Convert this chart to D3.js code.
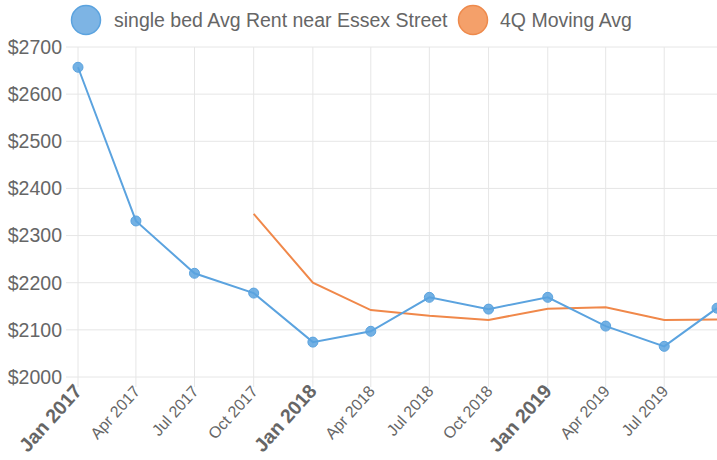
<!DOCTYPE html>
<html><head><meta charset="utf-8">
<script src="https://cdn.jsdelivr.net/npm/d3@7"></script>
<style>
html,body{margin:0;padding:0;background:#fff;overflow:hidden;}
text{font-family:"Liberation Sans",Arial,Helvetica,sans-serif;}
</style></head>
<body><svg id="chart" width="717" height="460"></svg>
<script>
const dates = ["2017-01-01","2017-04-01","2017-07-01","2017-10-01","2018-01-01","2018-04-01","2018-07-01","2018-10-01","2019-01-01","2019-04-01","2019-07-01","2019-09-21"];
const rentValues = [2657,2331,2220,2178,2074,2097,2169,2144,2169,2108,2065,2146];
const movingAvgValues = [null,null,null,2346,2200,2142,2130,2121,2145,2148,2121,2122];
const tickDates = ["2017-01-01","2017-04-01","2017-07-01","2017-10-01","2018-01-01","2018-04-01","2018-07-01","2018-10-01","2019-01-01","2019-04-01","2019-07-01"];
const yTicks = [2000,2100,2200,2300,2400,2500,2600,2700];
const seriesNames = ["single bed Avg Rent near Essex Street","4Q Moving Avg"];

const parse = d3.timeParse("%Y-%m-%d");
const svg = d3.select("#chart");
const mLeft = 78, mRight = 717, mTop = 47, mBottom = 377;
const x = d3.scaleTime().domain([parse(dates[0]), parse(dates[dates.length-1])]).range([mLeft, mRight]);
const y = d3.scaleLinear().domain([2000, 2700]).range([mBottom, mTop]);
const grid = "#e6e6e6", txt = "#666";
const blue = "#5ba3df", orange = "#f0884a";

// horizontal grid + y labels
const ya = svg.append("g");
ya.selectAll("line").data(yTicks).join("line")
  .attr("x1", mLeft-12).attr("x2", mRight).attr("y1", d=>y(d)).attr("y2", d=>y(d))
  .attr("stroke", grid).attr("stroke-width", 1);
ya.selectAll("text").data(yTicks).join("text")
  .attr("x", mLeft-16).attr("y", d=>y(d)).attr("dy","0.35em")
  .attr("text-anchor","end").attr("fill", txt).attr("font-size", 19.5)
  .text(d=>"$"+d);

// vertical grid + x labels
const xa = svg.append("g");
const td = tickDates.map(parse);
xa.selectAll("line").data(td).join("line")
  .attr("x1", d=>x(d)).attr("x2", d=>x(d)).attr("y1", mTop).attr("y2", mBottom+10)
  .attr("stroke", grid).attr("stroke-width", 1);
const fmt = d3.timeFormat("%b %Y");
xa.selectAll("text").data(td).join("text")
  .attr("transform", d=>`translate(${x(d)+5},${mBottom+15}) rotate(-48)`)
  .attr("text-anchor","end").attr("fill", txt)
  .attr("font-size", d=>d.getMonth()===0?19.5:16)
  .attr("font-weight", d=>d.getMonth()===0?"bold":"normal")
  .text(d=>fmt(d));

// lines
const line = d3.line().defined(d=>d[1]!=null).x(d=>x(parse(d[0]))).y(d=>y(d[1]));
svg.append("path").datum(dates.map((d,i)=>[d, movingAvgValues[i]]))
  .attr("d", line).attr("fill","none").attr("stroke", orange).attr("stroke-width", 2);
svg.append("path").datum(dates.map((d,i)=>[d, rentValues[i]]))
  .attr("d", line).attr("fill","none").attr("stroke", blue).attr("stroke-width", 2);
svg.append("g").selectAll("circle").data(dates.map((d,i)=>[d, rentValues[i]])).join("circle")
  .attr("cx", d=>x(parse(d[0]))).attr("cy", d=>y(d[1])).attr("r", 5)
  .attr("fill", blue).attr("fill-opacity", 0.85).attr("stroke", blue).attr("stroke-width", 1);

// legend
const lg = svg.append("g");
const legendItems = [
  {name: seriesNames[0], fill: "#7db4e4", stroke: "#5ba3df", cx: 86, tx: 114},
  {name: seriesNames[1], fill: "#f4a06a", stroke: "#ee8a4c", cx: 473, tx: 500}
];
legendItems.forEach(it=>{
  lg.append("circle").attr("cx", it.cx).attr("cy", 20).attr("r", 14.5)
    .attr("fill", it.fill).attr("stroke", it.stroke).attr("stroke-width", 1.5);
  lg.append("text").attr("x", it.tx).attr("y", 20).attr("dy","0.35em")
    .attr("fill", txt).attr("font-size", 19.5).text(it.name);
});
</script></body></html>
